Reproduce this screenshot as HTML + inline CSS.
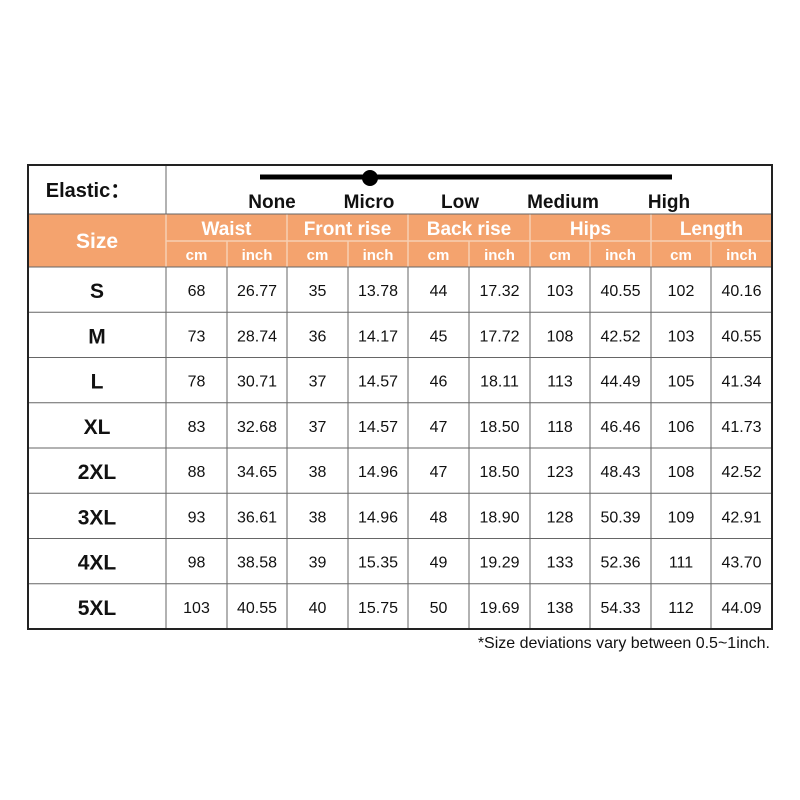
<!DOCTYPE html>
<html><head><style>
body{margin:0;width:800px;height:800px;background:#fff;position:relative;font-family:"Liberation Sans",Arial,sans-serif;overflow:hidden}
</style></head><body>
<svg width="800" height="800" style="position:absolute;left:0;top:0">
<rect x="166" y="214" width="606" height="53" fill="#f4a36e"/>
<rect x="28" y="214" width="138" height="53" fill="#f4a36e"/>
<g stroke="#f7cfb2" stroke-width="1.5">
<line x1="166" y1="241" x2="772" y2="241"/>
<line x1="166" y1="214" x2="166" y2="267"/>
<line x1="227" y1="241" x2="227" y2="267"/><line x1="287" y1="214" x2="287" y2="267"/>
<line x1="348" y1="241" x2="348" y2="267"/><line x1="408" y1="214" x2="408" y2="267"/>
<line x1="469" y1="241" x2="469" y2="267"/><line x1="530" y1="214" x2="530" y2="267"/>
<line x1="590" y1="241" x2="590" y2="267"/><line x1="651" y1="214" x2="651" y2="267"/>
<line x1="711" y1="241" x2="711" y2="267"/>
</g>
<g stroke="#666" stroke-width="1">
<line x1="166" y1="165" x2="166" y2="214"/>
<line x1="28" y1="214" x2="772" y2="214"/>
<line x1="28" y1="267" x2="772" y2="267"/>
<line x1="166" y1="267" x2="166" y2="629"/>
<line x1="227" y1="267" x2="227" y2="629"/><line x1="287" y1="267" x2="287" y2="629"/>
<line x1="348" y1="267" x2="348" y2="629"/><line x1="408" y1="267" x2="408" y2="629"/>
<line x1="469" y1="267" x2="469" y2="629"/><line x1="530" y1="267" x2="530" y2="629"/>
<line x1="590" y1="267" x2="590" y2="629"/><line x1="651" y1="267" x2="651" y2="629"/>
<line x1="711" y1="267" x2="711" y2="629"/>
<line x1="28" y1="312.25" x2="772" y2="312.25"/><line x1="28" y1="357.5" x2="772" y2="357.5"/>
<line x1="28" y1="402.75" x2="772" y2="402.75"/><line x1="28" y1="448" x2="772" y2="448"/>
<line x1="28" y1="493.25" x2="772" y2="493.25"/><line x1="28" y1="538.5" x2="772" y2="538.5"/>
<line x1="28" y1="583.75" x2="772" y2="583.75"/>
</g>
<rect x="28" y="165" width="744" height="464" fill="none" stroke="#222" stroke-width="2"/>
<line x1="260" y1="177" x2="672" y2="177" stroke="#000" stroke-width="5"/>
<circle cx="370" cy="178" r="8" fill="#000"/>
<g font-family="Liberation Sans,Arial,sans-serif" font-weight="bold" font-size="19" fill="#111" text-anchor="middle">
<text x="88" y="197" font-size="20">Elastic：</text>
<text x="272" y="208">None</text><text x="369" y="208">Micro</text><text x="460" y="208">Low</text>
<text x="563" y="208">Medium</text><text x="669" y="208">High</text>
</g>
<g font-family="Liberation Sans,Arial,sans-serif" font-weight="bold" fill="#fff" text-anchor="middle">
<text x="97" y="248" font-size="21">Size</text>
<text x="226.5" y="235" font-size="19">Waist</text><text x="347.5" y="235" font-size="19">Front rise</text>
<text x="469" y="235" font-size="19">Back rise</text><text x="590.5" y="235" font-size="19">Hips</text>
<text x="711.5" y="235" font-size="19">Length</text>
<g font-size="15">
<text x="196.5" y="260">cm</text><text x="257" y="260">inch</text><text x="317.5" y="260">cm</text><text x="378" y="260">inch</text>
<text x="438.5" y="260">cm</text><text x="499.5" y="260">inch</text><text x="560" y="260">cm</text><text x="620.5" y="260">inch</text>
<text x="681" y="260">cm</text><text x="741.5" y="260">inch</text></g>
</g>
<g font-family="Liberation Sans,Arial,sans-serif" fill="#111" text-anchor="middle" font-size="16" id="d"></g>
<text x="770" y="648" font-family="Liberation Sans,Arial,sans-serif" font-size="16" fill="#111" text-anchor="end">*Size deviations vary between 0.5~1inch.</text>
</svg>
<script>
var rows=[["S","68","26.77","35","13.78","44","17.32","103","40.55","102","40.16"],
["M","73","28.74","36","14.17","45","17.72","108","42.52","103","40.55"],
["L","78","30.71","37","14.57","46","18.11","113","44.49","105","41.34"],
["XL","83","32.68","37","14.57","47","18.50","118","46.46","106","41.73"],
["2XL","88","34.65","38","14.96","47","18.50","123","48.43","108","42.52"],
["3XL","93","36.61","38","14.96","48","18.90","128","50.39","109","42.91"],
["4XL","98","38.58","39","15.35","49","19.29","133","52.36","111","43.70"],
["5XL","103","40.55","40","15.75","50","19.69","138","54.33","112","44.09"]];
var xs=[97,196.5,257,317.5,378,438.5,499.5,560,620.5,681,741.5];
var g=document.getElementById("d"),h="";
rows.forEach(function(r,i){var y=267+45.25*i+29;r.forEach(function(v,j){
h+='<text x="'+xs[j]+'" y="'+(j==0?y+2:y)+'"'+(j==0?' font-weight="bold" font-size="21"':'')+'>'+v+'</text>';});});
g.innerHTML=h;
</script>
</body></html>
